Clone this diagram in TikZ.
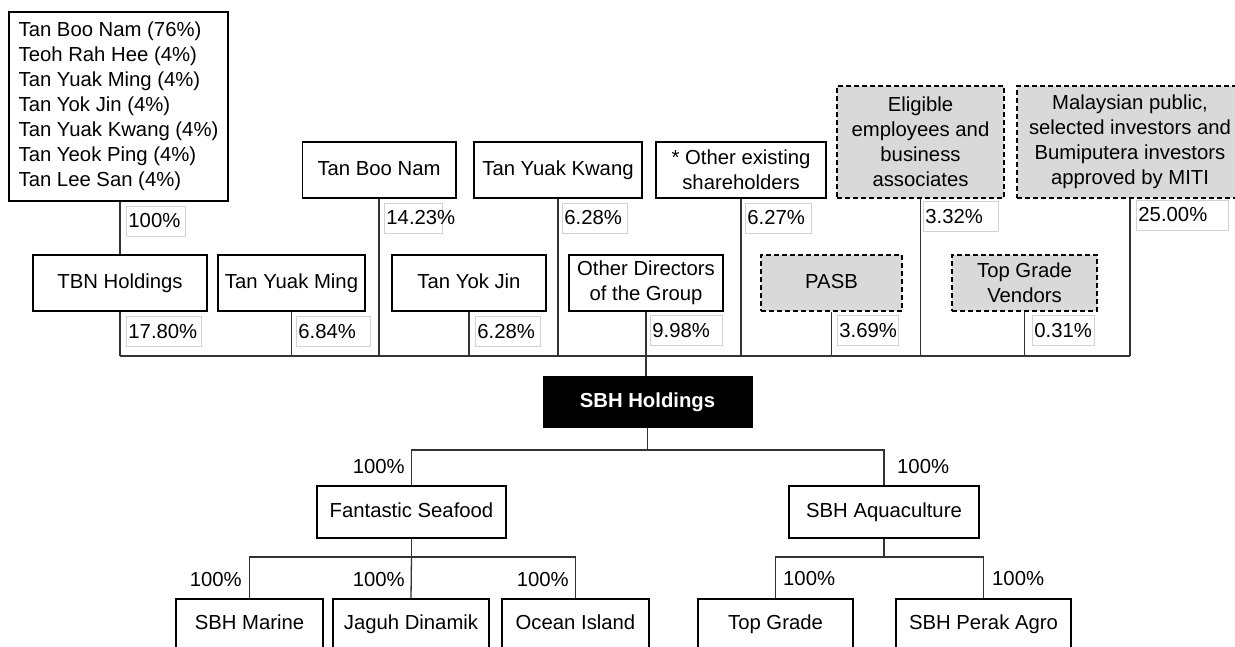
\documentclass[tikz,border=0pt]{standalone}
\usepackage{fontspec}
\setmainfont{Liberation Sans}
\usepackage{xcolor}
\definecolor{ShadeGray}{RGB}{217,217,217}
\definecolor{TagEdge}{RGB}{210,210,210}

\begin{document}
\begin{tikzpicture}[x=1pt, y=-1pt,
  every node/.style={font=\fontsize{20.3}{25}\selectfont},
  entity/.style={draw, line width=1.5pt, rectangle, align=center, minimum height=56pt, inner sep=2pt},
  oneline/.style={text height=14.5pt, text depth=4.3pt},
  outsider/.style={entity, line width=1.3pt, dash pattern=on 5pt off 3pt, fill=ShadeGray},
  holdco/.style={fill=black, text=white, font=\fontsize{20.3}{25}\selectfont\bfseries, minimum height=52pt},
  pcttag/.style={draw=TagEdge, line width=0.9pt, anchor=west, minimum height=30pt, inner xsep=2pt, align=left},
  pctplain/.style={inner sep=0pt},
  link/.style={line width=1.3pt, black!80}]
\useasboundingbox (0,0) rectangle (1235,646);

% Shareholders, top row
\node[entity, align=left, minimum width=219pt, minimum height=189pt] (family) at (118.5,106.5)
  {Tan Boo Nam (76\%)\\Teoh Rah Hee (4\%)\\Tan Yuak Ming (4\%)\\Tan Yok Jin (4\%)\\Tan Yuak Kwang (4\%)\\Tan Yeok Ping (4\%)\\Tan Lee San (4\%)};
\node[entity, oneline, minimum width=153.5pt] (tbnam) at (379,170) {Tan Boo Nam};
\node[entity, oneline, minimum width=168pt] (tykwang) at (558,170) {Tan Yuak Kwang};
\node[entity, minimum width=170pt] (others) at (741,170) {* Other existing\\shareholders};
\node[outsider, minimum width=167pt, minimum height=112pt] (eligible) at (920.5,142) {Eligible\\employees and\\business\\associates};
\node[outsider, minimum width=226pt, minimum height=112pt] (public) at (1130,142) {Malaysian public,\\selected investors and\\Bumiputera investors\\approved by MITI};

% Shareholders, second row
\node[entity, oneline, minimum width=174pt] (tbn) at (120,283) {TBN Holdings};
\node[entity, oneline, minimum width=147pt] (tyming) at (291.5,283) {Tan Yuak Ming};
\node[entity, oneline, minimum width=154pt] (tyjin) at (469,283) {Tan Yok Jin};
\node[entity, minimum width=154pt] (odir) at (646,283) {Other Directors\\of the Group};
\node[outsider, oneline, minimum width=141pt] (pasb) at (831.5,283) {PASB};
\node[outsider, minimum width=145pt] (tgv) at (1024.5,283) {Top Grade\\Vendors};

% Holding company and subsidiaries
\node[holdco, oneline, minimum width=210pt] (sbh) at (647.5,402) {SBH Holdings};
\node[entity, oneline, minimum width=189pt, minimum height=52pt] (fant) at (411.5,512) {Fantastic Seafood};
\node[entity, oneline, minimum width=190pt, minimum height=52pt] (aqua) at (884,512) {SBH Aquaculture};
\node[entity, oneline, minimum width=147pt, minimum height=50pt] (marine) at (249.5,624) {SBH Marine};
\node[entity, oneline, minimum width=156pt, minimum height=50pt] (jaguh) at (411,624) {Jaguh Dinamik};
\node[entity, oneline, minimum width=147pt, minimum height=50pt] (ocean) at (575.5,624) {Ocean Island};
\node[entity, oneline, minimum width=155pt, minimum height=50pt] (topg) at (775.5,624) {Top Grade};
\node[entity, oneline, minimum width=175pt, minimum height=50pt] (perak) at (983.5,624) {SBH Perak Agro};

% Shareholding labels
\node[pcttag, text width=55pt] (p1) at (126,221) {100\%};
\node[pcttag, text width=54pt] (p2) at (384,218) {14.23\%};
\node[pcttag, text width=61pt] (p3) at (562,218) {6.28\%};
\node[pcttag, text width=62pt] (p4) at (745,218) {6.27\%};
\node[pcttag, text width=71pt] (p5) at (923,216.5) {3.32\%};
\node[pcttag, text width=88pt] (p6) at (1136,215) {25.00\%};
\node[pcttag, text width=71pt] (p7) at (126,331.5) {17.80\%};
\node[pcttag, text width=70pt] (p8) at (296,331.5) {6.84\%};
\node[pcttag, text width=61pt] (p9) at (475,331.5) {6.28\%};
\node[pcttag, text width=68pt] (p10) at (650,330.5) {9.98\%};
\node[pcttag, text width=57pt] (p11) at (837,330.5) {3.69\%};
\node[pcttag, text width=58pt] (p12) at (1032,330.5) {0.31\%};

\node[pctplain, anchor=east] (s1) at (405,467) {100\%};
\node[pctplain, anchor=west] (s2) at (897,467) {100\%};
\node[pctplain, anchor=east] (s3) at (242,580) {100\%};
\node[pctplain, anchor=east] (s4) at (405,580) {100\%};
\node[pctplain, anchor=east] (s5) at (569,580) {100\%};
\node[pctplain, anchor=west] (s6) at (783,579) {100\%};
\node[pctplain, anchor=west] (s7) at (992,579) {100\%};

% Connectors
\coordinate (bus) at (120,356);
\coordinate (split) at (647.5,450);
\coordinate (fsplit) at (411.5,557);
\coordinate (asplit) at (884,557);

\draw[link] (tbn.north |- family.south) -- (tbn.north);
\draw[link] (tbn.south |- bus) -- (public.south |- bus);
\draw[link] (tbn.south) -- (tbn.south |- bus);
\draw[link] (tyming.south) -- (tyming.south |- bus);
\draw[link] (tbnam.south) -- (tbnam.south |- bus);
\draw[link] (tyjin.south) -- (tyjin.south |- bus);
\draw[link] (tykwang.south) -- (tykwang.south |- bus);
\draw[link] (others.south) -- (others.south |- bus);
\draw[link] (pasb.south) -- (pasb.south |- bus);
\draw[link] (eligible.south) -- (eligible.south |- bus);
\draw[link] (tgv.south) -- (tgv.south |- bus);
\draw[link] (public.south) -- (public.south |- bus);
\draw[link] (odir.south) -- (odir.south |- sbh.north);

\draw[link] (sbh.south) -- (split);
\draw[link] (fant.north) |- (split) -| (aqua.north);
\draw[link] (fant.south) -- (fsplit);
\draw[link] (marine.north) |- (fsplit) -| (ocean.north);
\draw[link] (fsplit) -- (jaguh.north);
\draw[link] (aqua.south) -- (asplit);
\draw[link] (topg.north) |- (asplit) -| (perak.north);
\end{tikzpicture}
\end{document}
